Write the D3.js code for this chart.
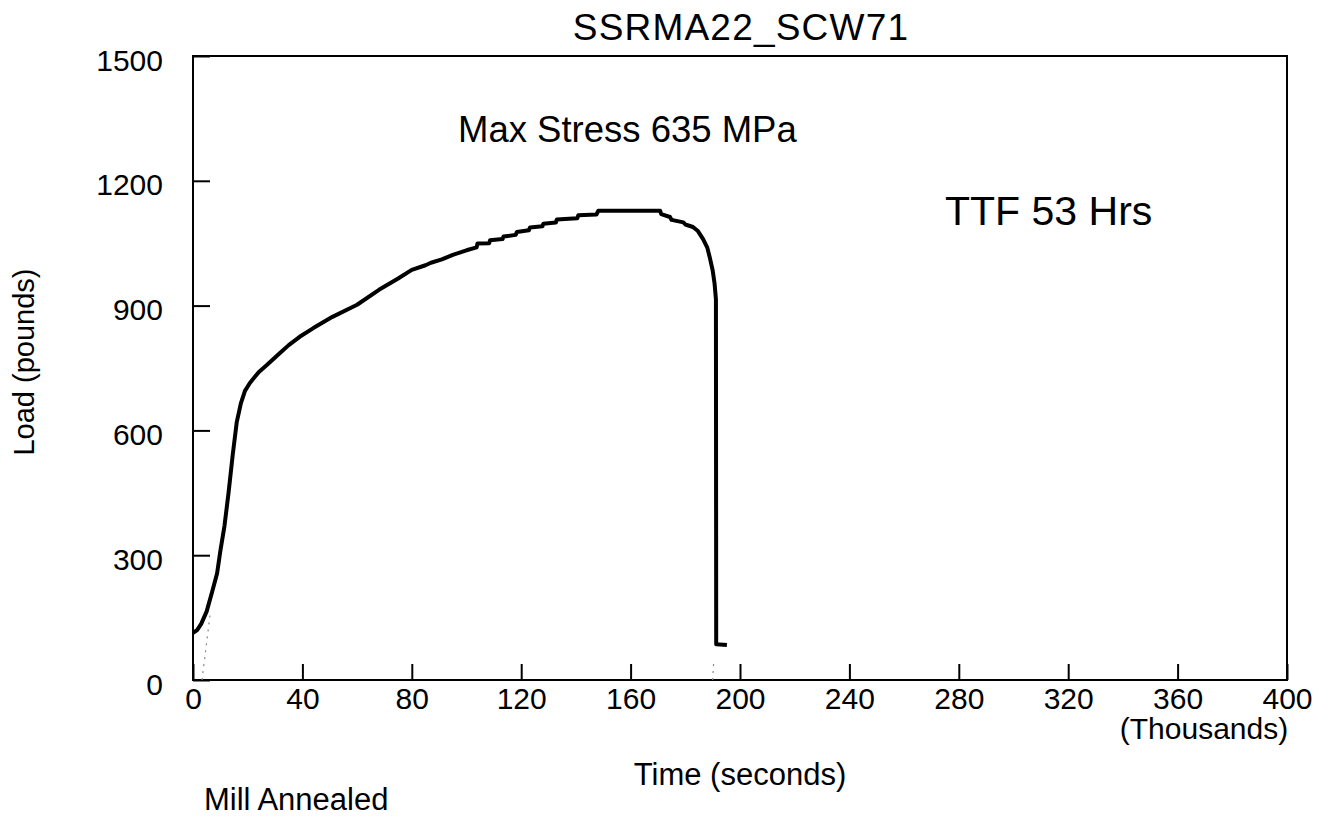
<!DOCTYPE html>
<html>
<head>
<meta charset="utf-8">
<script src="https://cdn.jsdelivr.net/npm/d3@7"></script>
<style>
  body { margin: 0; background: #fff; }
  text { font-family: "Liberation Sans", Arial, Helvetica, sans-serif; fill: #000; }
</style>
</head>
<body>
<div id="canvas"></div>
<script>
// canvas size and plot box
const width = 1329, height = 817;
const margin = { left: 193, right: 42, top: 56, bottom: 137 };

// load curve, time in thousands of seconds, load in pounds
const timeK = [0, 1.5, 3, 5, 7, 8.8, 10, 11.5, 13, 14.5, 16, 17.5, 19, 20.8, 24, 27, 31.8, 35, 39, 44, 51, 60, 68, 75, 80, 85, 87, 91, 95, 100,
    103.7, 104, 108.3, 108.6, 113.2, 113.5, 118, 118.4, 122.8, 123.2, 127.8, 128.1, 132.7, 133, 140.5, 140.9, 147.5, 148.2,
    170.8, 171.2, 174.4, 175, 179.3, 180, 182.8, 184.5, 186.5, 188, 188.9, 190, 190.7, 191.2, 191.3, 195.2];
const loadLbs = [113, 120, 135, 165, 212, 256, 310, 370, 450, 540, 620, 665, 695, 714, 740, 757, 786, 805, 825, 846, 873, 902, 938, 965, 986, 997, 1003, 1011, 1022, 1033,
    1040, 1049, 1050, 1057, 1060, 1066, 1070, 1077, 1081, 1088, 1091, 1097, 1100, 1107, 1110, 1117, 1119, 1128,
    1128, 1120, 1113, 1106, 1100, 1095, 1089, 1080, 1060, 1040, 1017, 985, 953, 915, 86, 84];

// faint dotted trace near the start and at the break
const traceTime = [[3.3, 6.2], [190, 190.4]];
const traceLoad = [[0, 155], [0, 45]];

const xTicks = [0, 40, 80, 120, 160, 200, 240, 280, 320, 360, 400];
const yTicks = [0, 300, 600, 900, 1200, 1500];

const svg = d3.select("#canvas")
    .append("svg")
    .attr("width", width)
    .attr("height", height);

const xScale = d3.scaleLinear()
    .domain([0, 400])
    .range([margin.left, width - margin.right]);

const yScale = d3.scaleLinear()
    .domain([0, 1500])
    .range([height - margin.bottom, margin.top]);

// x axis, ticks pointing into the plot
const xAxis = svg.append("g")
    .attr("transform", `translate(0,${height - margin.bottom})`)
    .call(d3.axisBottom(xScale).tickValues(xTicks).tickSize(-16).tickPadding(8).tickFormat(d3.format("d")));
xAxis.select(".domain").remove();
xAxis.selectAll("line").attr("stroke", "#000").attr("stroke-width", 2);
xAxis.selectAll("text").attr("font-size", 30).attr("font-family", null);

// y axis
const yAxis = svg.append("g")
    .attr("transform", `translate(${margin.left},0)`)
    .call(d3.axisLeft(yScale).tickValues(yTicks).tickSize(-17).tickPadding(30).tickFormat(d3.format("d")));
yAxis.select(".domain").remove();
yAxis.selectAll("line").attr("stroke", "#000").attr("stroke-width", 2);
yAxis.selectAll("text").attr("font-size", 30).attr("font-family", null).attr("dy", "0.47em");

// frame
svg.append("rect")
    .attr("x", xScale(0))
    .attr("y", yScale(1500))
    .attr("width", xScale(400) - xScale(0))
    .attr("height", yScale(0) - yScale(1500))
    .attr("fill", "none")
    .attr("stroke", "#000")
    .attr("stroke-width", 2);

const line = d3.line()
    .x(d => xScale(d[0]))
    .y(d => yScale(d[1]));

// dotted traces
traceTime.forEach((ts, i) => {
    svg.append("path")
        .datum(ts.map((t, j) => [t, traceLoad[i][j]]))
        .attr("d", line)
        .attr("fill", "none")
        .attr("stroke", "#888")
        .attr("stroke-width", 1.2)
        .attr("stroke-dasharray", "2,5");
});

// main curve
svg.append("path")
    .datum(timeK.map((t, i) => [t, loadLbs[i]]))
    .attr("d", line)
    .attr("fill", "none")
    .attr("stroke", "#000")
    .attr("stroke-width", 4)
    .attr("stroke-linejoin", "round");

// texts
svg.append("text")
    .attr("x", 741).attr("y", 40)
    .attr("text-anchor", "middle")
    .attr("font-size", 37)
    .attr("letter-spacing", 1.2)
    .text("SSRMA22_SCW71");

svg.append("text")
    .attr("x", 458).attr("y", 142)
    .attr("font-size", 36.5)
    .text("Max Stress 635 MPa");

svg.append("text")
    .attr("x", 945).attr("y", 225)
    .attr("font-size", 41)
    .text("TTF 53 Hrs");

svg.append("text")
    .attr("transform", "translate(34,362) rotate(-90)")
    .attr("text-anchor", "middle")
    .attr("font-size", 29)
    .text("Load (pounds)");

svg.append("text")
    .attr("x", 740).attr("y", 785)
    .attr("text-anchor", "middle")
    .attr("font-size", 31)
    .text("Time (seconds)");

svg.append("text")
    .attr("x", 1204).attr("y", 739)
    .attr("text-anchor", "middle")
    .attr("font-size", 30)
    .text("(Thousands)");

svg.append("text")
    .attr("x", 204).attr("y", 810)
    .attr("font-size", 31)
    .text("Mill Annealed");
</script>
</body>
</html>
